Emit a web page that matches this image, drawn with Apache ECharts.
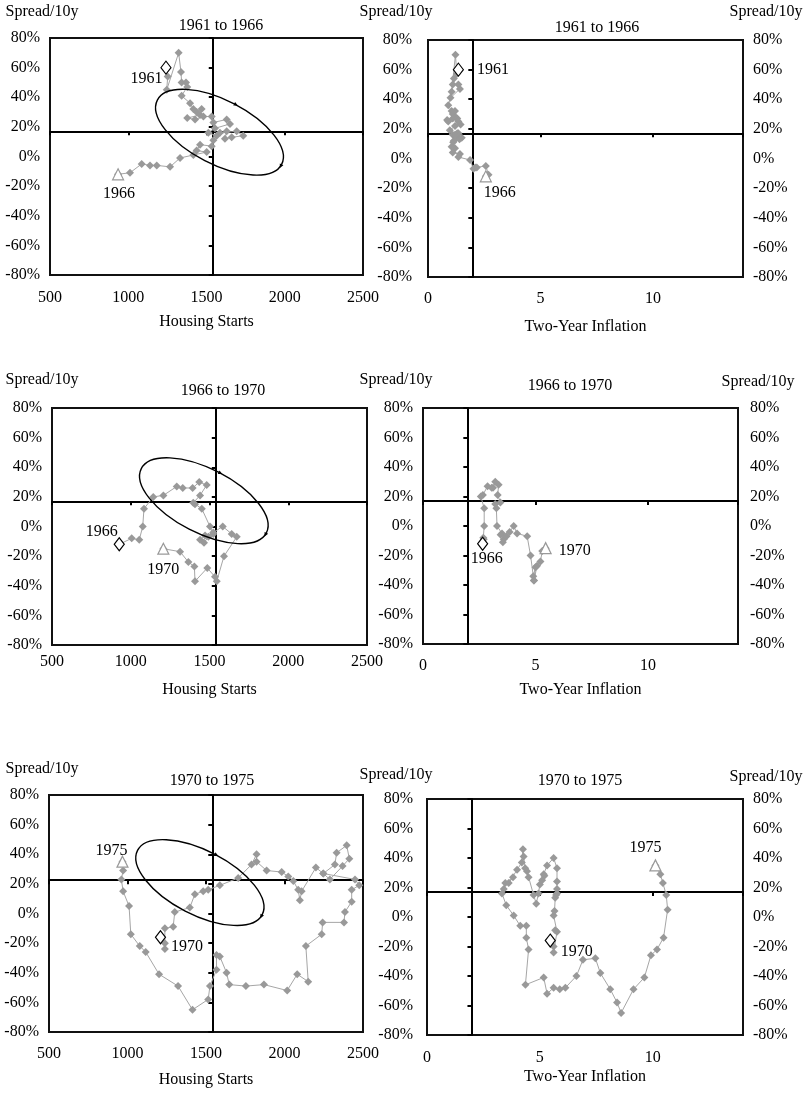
<!DOCTYPE html>
<html>
<head>
<meta charset="utf-8">
<title>Spread/10y against Housing Starts and Two-Year Inflation</title>
<script src="https://cdn.jsdelivr.net/npm/echarts@6/dist/echarts.min.js"></script>
<style>
html, body { margin: 0; padding: 0; background: #fff; }
#chart { width: 809px; height: 1093px; }
</style>
</head>
<body>
<div id="chart"></div>
<script>
// ---- data ----
var periods = ['1961 to 1966', '1966 to 1970', '1970 to 1975'];
var startYears = ['1961', '1966', '1970'];
var endYears = ['1966', '1970', '1975'];

var housingTicks = [500, 1000, 1500, 2000, 2500];
var inflationTicks = [0, 5, 10];
var inflationMax = 14;
var spreadTicks = [-0.8, -0.6, -0.4, -0.2, 0, 0.2, 0.4, 0.6, 0.8];

// where the inner axes cross
var housingCross = 1540;
var inflationCross = 1.97;
var spreadCrossLeft = [0.17, 0.17, 0.225];
var spreadCrossRight = [0.17, 0.17, 0.17];

var housing6166 = [1241,1252,1246,1322,1337,1341,1369,1377,1341,1395,1416,1437,1469,1459,1377,1427,1480,1533,1544,1629,
	1650,1554,1512,1565,1629,1618,1661,1735,1693,1586,1544,1533,1459,1437,1501,1416,1331,1267,1182,1139,1086,1011,935];
var inflation6166 = [1.35,1.15,1.05,1.22,1.28,1.10,1.35,1.42,1.00,0.90,1.05,1.10,1.20,1.22,0.85,0.90,1.10,1.30,1.45,1.35,
	1.20,0.97,1.10,1.27,1.35,1.15,1.40,1.50,1.30,1.20,1.12,1.20,1.05,1.10,1.42,1.35,1.87,2.02,2.10,2.17,2.57,2.69,2.57];
var spread6166 = [0.60,0.54,0.45,0.70,0.57,0.50,0.50,0.47,0.41,0.36,0.32,0.30,0.32,0.28,0.26,0.25,0.27,0.27,0.23,0.25,
	0.22,0.19,0.16,0.14,0.17,0.12,0.13,0.14,0.17,0.16,0.11,0.07,0.08,0.04,0.03,0.01,-0.01,-0.07,-0.06,-0.06,-0.05,-0.11,-0.12];

var housing6670 = [927,1006,1054,1076,1084,1143,1207,1292,1330,1393,1435,1482,1440,1397,1408,1451,1503,1524,1472,1440,
	1465,1493,1524,1584,1641,1673,1592,1546,1535,1486,1408,1404,1366,1313,1207];
var inflation6670 = [2.65,2.68,2.70,2.72,2.72,2.57,2.66,2.87,3.11,3.05,3.21,3.36,3.32,3.44,3.21,3.26,3.29,3.51,3.45,3.59,
	3.55,3.71,3.85,4.03,4.18,4.63,4.78,4.93,4.90,5.00,4.93,5.07,5.22,5.30,5.45];
var spread6670 = [-0.12,-0.08,-0.09,0.00,0.12,0.20,0.21,0.27,0.26,0.26,0.30,0.28,0.21,0.16,0.15,0.12,0.00,-0.05,-0.06,-0.09,
	-0.11,-0.07,-0.04,0.00,-0.05,-0.07,-0.20,-0.37,-0.34,-0.28,-0.37,-0.27,-0.24,-0.17,-0.15];

var housing7075 = [1210,1238,1238,1238,1291,1301,1397,1429,1482,1514,1588,1705,1790,1822,1822,1886,1982,2024,2056,2087,
	2098,2109,2200,2247,2321,2332,2396,2413,2370,2289,2247,2449,2476,2428,2428,2385,2379,2243,2237,2136,
	2151,2081,2017,1869,1754,1648,1631,1588,1567,1567,1525,1514,1414,1322,1201,1116,1078,1021,1010,972,961,972,968];
var inflation7075 = [5.46,5.61,5.61,5.76,5.68,5.61,5.65,5.68,5.72,5.76,5.76,5.76,5.76,5.61,5.32,5.17,5.20,5.10,5.00,4.94,
	4.84,4.72,4.43,4.50,4.35,4.28,4.25,4.20,3.99,3.62,3.81,3.47,3.40,3.32,3.51,3.84,4.13,4.40,4.40,4.50,
	4.36,5.17,5.32,5.61,5.88,6.13,6.62,6.91,7.46,7.68,8.12,8.42,8.60,9.15,9.63,9.92,10.19,10.48,10.66,10.60,10.45,10.34,10.12];
var spread7075 = [-0.16,-0.20,-0.24,-0.10,-0.09,0.01,0.04,0.13,0.15,0.16,0.19,0.24,0.33,0.40,0.35,0.29,0.28,0.25,0.22,0.16,
	0.09,0.15,0.31,0.27,0.33,0.41,0.46,0.37,0.32,0.23,0.27,0.23,0.19,0.16,0.08,0.01,-0.06,-0.06,-0.14,-0.22,
	-0.46,-0.41,-0.52,-0.48,-0.49,-0.48,-0.40,-0.29,-0.28,-0.38,-0.49,-0.58,-0.65,-0.49,-0.41,-0.26,-0.22,-0.14,0.05,0.15,0.23,0.29,0.35];

var housingRows = [housing6166, housing6670, housing7075];
var inflationRows = [inflation6166, inflation6670, inflation7075];
var spreadRows = [spread6166, spread6670, spread7075];

// hand drawn ellipse on the housing panels: centre, end of the long half axis, end of the short half axis (data units)
var ellipseCenters = [[1583, 0.164], [1464, 0.174], [1461, 0.209]];
var ellipseMajor = [397, -0.217];
var ellipseMinor = [-94, -0.192];

// ---- layout ----
var FONT = 'Liberation Serif';
var layout = [
	{
		left:  {box:[50,38,313,237], title:[221,26], nameX:42, nameGap:26, yMargin:10, xMargin:15, xNameGap:47,
			start:{position:'left', offset:[7,11]}, end:{position:'bottom', offset:[1,0]}},
		right: {box:[428,40,315,237], title:[597,28], nameX:396, nameGap:28, nameRX:766, nameRGap:28, yMargin:16, yRMargin:10, xMargin:14, xNameGap:50,
			start:{position:'right', offset:[8,0]}, end:{position:'bottom', offset:[14,-3]}}
	},
	{
		left:  {box:[52,408,315,237], title:[223,391], nameX:42, nameGap:28, yMargin:10, xMargin:9, xNameGap:45,
			start:{position:'left', offset:[9,-12]}, end:{position:'bottom', offset:[0,2]}},
		right: {box:[423,408,315,236], title:[570,386], nameX:396, nameGap:28, nameRX:758, nameRGap:26, yMargin:10, yRMargin:12, xMargin:14, xNameGap:46,
			start:{position:'bottom', offset:[4,-5]}, end:{position:'right', offset:[2,3]}}
	},
	{
		left:  {box:[49,795,314,237], title:[212,781], nameX:42, nameGap:26, yMargin:10, xMargin:14, xNameGap:48,
			start:{position:'right', offset:[0,10]}, end:{position:'top', offset:[-11,8]}},
		right: {box:[427,799,316,236], title:[580,781], nameX:396, nameGap:24, nameRX:766, nameRGap:22, yMargin:14, yRMargin:10, xMargin:15, xNameGap:42,
			start:{position:'right', offset:[0,11]}, end:{position:'top', offset:[-10,2]}}
	}
];

var grids = [], xAxes = [], yAxes = [], series = [], titles = [];

function pct(v) {
	return Math.round(v * 100) + '%';
}

function textStyle(extra) {
	var s = {color: '#000', fontFamily: FONT, fontSize: 16};
	for (var k in extra) { s[k] = extra[k]; }
	return s;
}

// shift a centred axis name so that its middle lands on wantX
function namePad(axisX, wantX) {
	var d = 2 * (wantX - axisX);
	return d < 0 ? [0, -d, 0, 0] : [0, 0, 0, d];
}

function renderEllipse(params, api) {
	var c = api.coord([api.value(0), api.value(1)]);
	var a = api.coord([api.value(2), api.value(3)]);
	var b = api.coord([api.value(4), api.value(5)]);
	var ax = a[0] - c[0], ay = a[1] - c[1], bx = b[0] - c[0], by = b[1] - c[1];
	var rx = Math.sqrt(ax * ax + ay * ay), ry = Math.sqrt(bx * bx + by * by);
	var children = [{
		type: 'ellipse', x: c[0], y: c[1], rotation: -Math.atan2(ay, ax),
		shape: {cx: 0, cy: 0, rx: rx, ry: ry},
		style: {fill: 'none', stroke: '#000', lineWidth: 1.4}
	}];
	// two small arrow heads, at the lower right end and at the top
	var heads = [[c[0] + ax, c[1] + ay, bx / ry, by / ry], [c[0] - bx, c[1] - by, ax / rx, ay / rx]];
	for (var i = 0; i < heads.length; i++) {
		var h = heads[i], tx = h[2], ty = h[3];
		children.push({
			type: 'polygon',
			shape: {points: [[h[0] + tx * 4, h[1] + ty * 4], [h[0] - ty * 2, h[1] + tx * 2], [h[0] + ty * 2, h[1] - tx * 2]]},
			style: {fill: '#000'}
		});
	}
	return {type: 'group', children: children};
}

function addPanel(row, side) {
	var p = layout[row][side];
	var isLeft = side === 'left';
	var xs = isLeft ? housingRows[row] : inflationRows[row];
	var ys = spreadRows[row];
	var xTicks = isLeft ? housingTicks : inflationTicks;
	var xMin = xTicks[0];
	var xMax = isLeft ? xTicks[xTicks.length - 1] : inflationMax;
	var xInt = xTicks[1] - xTicks[0];
	var xCross = isLeft ? housingCross : inflationCross;
	var yCross = isLeft ? spreadCrossLeft[row] : spreadCrossRight[row];
	var yMin = spreadTicks[0], yMax = spreadTicks[spreadTicks.length - 1];
	var yInt = 0.2;

	var g = grids.length;
	grids.push({
		left: p.box[0], top: p.box[1], width: p.box[2], height: p.box[3],
		show: true, borderColor: '#111', borderWidth: 2, backgroundColor: 'transparent',
		containLabel: false, outerBoundsMode: 'none'
	});

	titles.push({
		text: periods[row], left: p.title[0], top: p.title[1], padding: 0,
		textAlign: 'center', textVerticalAlign: 'middle',
		textStyle: textStyle({fontWeight: 'normal'})
	});

	var xi = xAxes.length, yi = yAxes.length;

	// bottom axis: only the tick labels and the name
	xAxes.push({
		gridIndex: g, type: 'value', min: xMin, max: xMax, interval: xInt, position: 'bottom',
		axisLine: {show: false, onZero: false}, axisTick: {show: false}, splitLine: {show: false},
		axisLabel: textStyle({margin: p.xMargin, formatter: function (v) {
			return xTicks.indexOf(v) >= 0 ? String(v) : '';
		}}),
		name: isLeft ? 'Housing Starts' : 'Two-Year Inflation',
		nameLocation: 'middle', nameGap: p.xNameGap,
		nameTextStyle: textStyle({verticalAlign: 'middle'})
	});
	// helper whose zero sits on the crossing value
	xAxes.push({gridIndex: g, type: 'value', min: xMin - xCross, max: xMax - xCross, show: false});
	// horizontal crossing line with its ticks
	xAxes.push({
		gridIndex: g, type: 'value', min: xMin, max: xMax, interval: xInt, position: 'bottom',
		axisLine: {show: true, onZero: true, onZeroAxisIndex: yi + 1, lineStyle: {color: '#000', width: 2}},
		axisTick: {show: true, length: 4, lineStyle: {color: '#000', width: 2}},
		axisLabel: {show: false}, splitLine: {show: false}
	});

	yAxes.push({
		gridIndex: g, type: 'value', min: yMin, max: yMax, interval: yInt, position: 'left',
		axisLine: {show: false, onZero: false}, axisTick: {show: false}, splitLine: {show: false},
		axisLabel: textStyle({margin: p.yMargin, formatter: pct}),
		name: 'Spread/10y', nameLocation: 'end', nameGap: p.nameGap,
		nameTextStyle: textStyle({align: 'center', verticalAlign: 'middle', padding: namePad(p.box[0], p.nameX)})
	});
	yAxes.push({gridIndex: g, type: 'value', min: yMin - yCross, max: yMax - yCross, show: false});
	yAxes.push({
		gridIndex: g, type: 'value', min: yMin, max: yMax, interval: yInt, position: 'left',
		axisLine: {show: true, onZero: true, onZeroAxisIndex: xi + 1, lineStyle: {color: '#000', width: 2}},
		axisTick: {show: true, length: 4, lineStyle: {color: '#000', width: 2}},
		axisLabel: {show: false}, splitLine: {show: false}
	});
	if (!isLeft) {
		var rightX = p.box[0] + p.box[2];
		yAxes.push({
			gridIndex: g, type: 'value', min: yMin, max: yMax, interval: yInt, position: 'right',
			axisLine: {show: false, onZero: false}, axisTick: {show: false}, splitLine: {show: false},
			axisLabel: textStyle({margin: p.yRMargin, formatter: pct}),
			name: 'Spread/10y', nameLocation: 'end', nameGap: p.nameRGap,
			nameTextStyle: textStyle({align: 'center', verticalAlign: 'middle', padding: namePad(rightX, p.nameRX)})
		});
	}

	var pts = [];
	for (var i = 0; i < xs.length; i++) {
		pts.push([xs[i], ys[i]]);
	}

	series.push({
		type: 'line', xAxisIndex: xi, yAxisIndex: yi, data: pts,
		symbol: 'diamond', symbolSize: 8, showAllSymbol: true,
		itemStyle: {color: '#999', opacity: 1}, lineStyle: {color: '#a6a6a6', width: 1},
		z: 3, silent: true
	});
	// opening and closing month, with their year
	series.push({
		type: 'scatter', xAxisIndex: xi, yAxisIndex: yi, data: [pts[0]],
		symbol: 'diamond', symbolSize: [10, 13],
		itemStyle: {color: '#fff', borderColor: '#000', borderWidth: 1.2, opacity: 1},
		label: textStyle({show: true, formatter: startYears[row], position: p.start.position, offset: p.start.offset, textBorderWidth: 0}),
		z: 5, silent: true
	});
	series.push({
		type: 'scatter', xAxisIndex: xi, yAxisIndex: yi, data: [pts[pts.length - 1]],
		symbol: 'triangle', symbolSize: [11, 11],
		itemStyle: {color: '#fff', borderColor: '#999', borderWidth: 1.2, opacity: 1},
		label: textStyle({show: true, formatter: endYears[row], position: p.end.position, offset: p.end.offset, textBorderWidth: 0}),
		z: 5, silent: true
	});

	if (isLeft) {
		var c = ellipseCenters[row];
		series.push({
			type: 'custom', xAxisIndex: xi, yAxisIndex: yi, silent: true, z: 4,
			data: [[c[0], c[1], c[0] + ellipseMajor[0], c[1] + ellipseMajor[1], c[0] + ellipseMinor[0], c[1] + ellipseMinor[1]]],
			renderItem: renderEllipse
		});
	}
}

for (var r = 0; r < periods.length; r++) {
	addPanel(r, 'left');
	addPanel(r, 'right');
}

var option = {
	backgroundColor: '#fff',
	animation: false,
	textStyle: {fontFamily: FONT},
	title: titles,
	grid: grids,
	xAxis: xAxes,
	yAxis: yAxes,
	series: series
};

var chart = echarts.init(document.getElementById('chart'));
chart.setOption(option);
</script>
</body>
</html>
